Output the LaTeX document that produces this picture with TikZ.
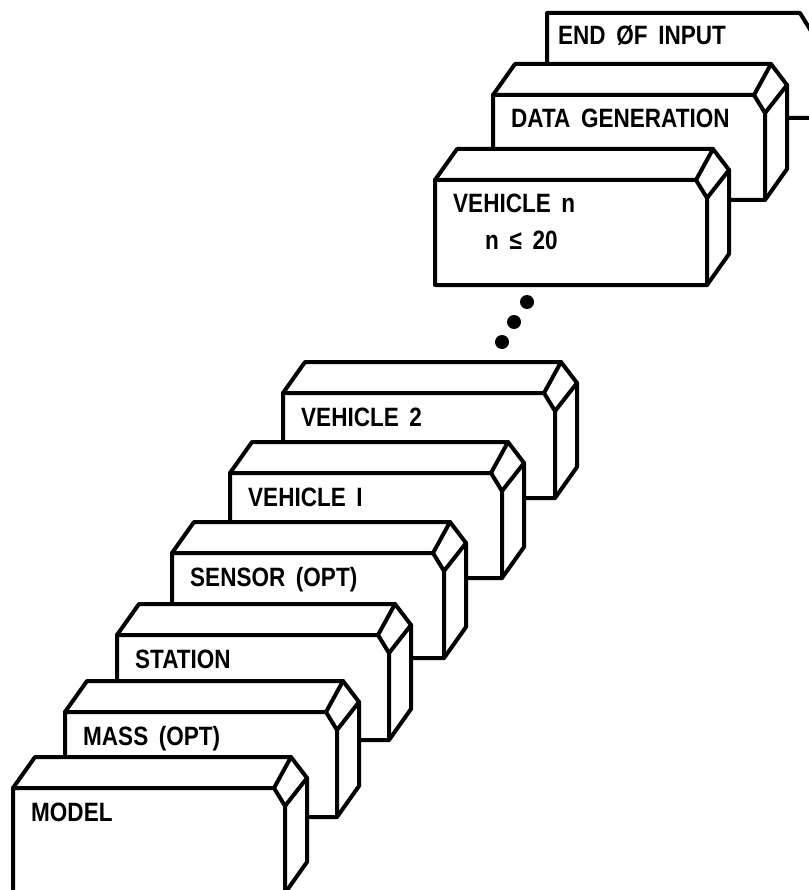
\documentclass[tikz,border=0pt]{standalone}
\usepackage{fontspec}
\setmainfont{Liberation Sans}[FakeStretch=0.85, WordSpace=1.7]
\tikzset{
  bord/.style={line width=4pt, line join=round, line cap=round},
  etiquette/.style={anchor=base west, inner sep=0pt,
    font=\fontsize{26.5}{30}\selectfont\bfseries},
}
% caisse : x, y du coin avant haut gauche, nom, texte
\newcommand{\caisse}[4]{%
  \begin{scope}[shift={(#1,#2)}]
    \filldraw[bord, fill=white] (0,0) -- (22,-31) -- (278,-31) -- (294,-10)
      -- (294,74) -- (272,105) -- (0,105) -- cycle;
    \draw[bord] (0,0) -- (261,0) -- (272,18) -- (272,105); % face avant
    \draw[bord] (261,0) -- (278,-31); \draw[bord] (272,18) -- (294,-10); % biseau
    \node[etiquette] (#3) at (18,33) {#4};
  \end{scope}}
\begin{document}
\begin{tikzpicture}[x=1pt, y=-1pt]
\useasboundingbox (0,0) rectangle (808,890);
%
\filldraw[bord, fill=white] (547,118) -- (547,13) -- (800,13) -- (811,31)
  -- (811,118) -- cycle; % fin, seule la face avant se voit
\node[etiquette] (fin) at (558,44.5) {END ØF INPUT};
%
\caisse{493}{95}{donnees}{DATA GENERATION}
\caisse{435}{180}{vehn}{VEHICLE n}
\node[etiquette] (borne) at (485,249.5) {n ≤ 20};
%
\fill (527,302) circle (7); \fill (514,322) circle (7);
\fill (502,342) circle (7); % points de suite
%
\caisse{283}{393}{vehdeux}{VEHICLE 2}
\caisse{230}{473}{vehun}{VEHICLE I}
\caisse{172}{553}{capteur}{SENSOR (OPT)}
\caisse{117}{635}{station}{STATION}
\caisse{65}{712}{masse}{MASS (OPT)}
\caisse{13}{788}{modele}{MODEL}
\end{tikzpicture}
\end{document}
